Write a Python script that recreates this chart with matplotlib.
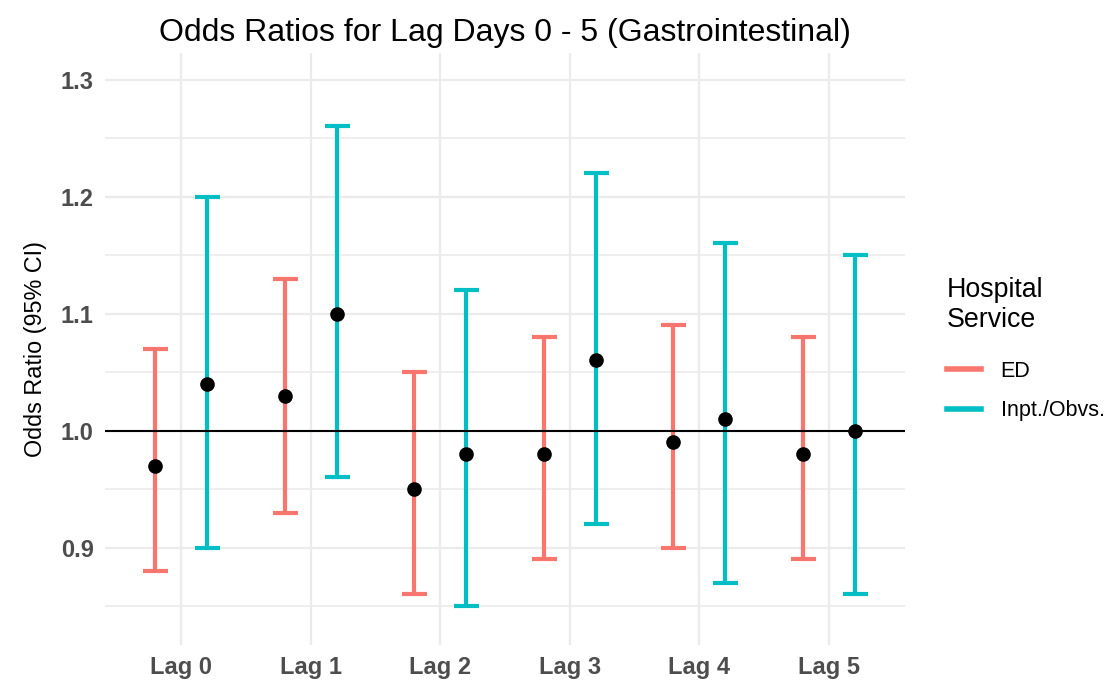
import matplotlib.pyplot as plt
from matplotlib.lines import Line2D
import numpy as np

plt.rcParams['font.family'] = ['Liberation Sans', 'DejaVu Sans']

# datos
lags = ['Lag 0', 'Lag 1', 'Lag 2', 'Lag 3', 'Lag 4', 'Lag 5']

ed_or = [0.97, 1.03, 0.95, 0.98, 0.99, 0.98]
ed_lo = [0.88, 0.93, 0.86, 0.89, 0.90, 0.89]
ed_hi = [1.07, 1.13, 1.05, 1.08, 1.09, 1.08]

inp_or = [1.04, 1.10, 0.98, 1.06, 1.01, 1.00]
inp_lo = [0.90, 0.96, 0.85, 0.92, 0.87, 0.86]
inp_hi = [1.20, 1.26, 1.12, 1.22, 1.16, 1.15]

series = [
    ('ED', ed_or, ed_lo, ed_hi, '#F8766D', -0.2),
    ('Inpt./Obvs.', inp_or, inp_lo, inp_hi, '#00BFC4', 0.2),
]

fig = plt.figure(figsize=(11.05, 6.83), dpi=100)
ax = fig.add_axes([0.095, 0.056, 0.724, 0.866])

x = np.arange(len(lags))

# grilla estilo theme_minimal
for y in [0.9, 1.0, 1.1, 1.2, 1.3]:
    ax.axhline(y, color='#EBEBEB', lw=1.6, zorder=0)
for y in [0.85, 0.95, 1.05, 1.15, 1.25]:
    ax.axhline(y, color='#EBEBEB', lw=1.2, zorder=0)
for xi in x:
    ax.axvline(xi, color='#EBEBEB', lw=1.6, zorder=0)

handles = []
for nombre, orr, lo, hi, color, dx in series:
    orr = np.array(orr)
    yerr = [orr - np.array(lo), np.array(hi) - orr]
    ax.errorbar(x + dx, orr, yerr=yerr, fmt='none', ecolor=color,
                elinewidth=3, capsize=9, capthick=3, zorder=2)
    ax.plot(x + dx, orr, 'o', color='black', ms=9.5, zorder=4)
    handles.append(Line2D([], [], color=color, lw=4, label=nombre))

ax.axhline(1.0, color='black', lw=1.5, zorder=3)

ax.set_xlim(-0.59, 5.59)
ax.set_ylim(0.817, 1.3225)
ax.set_xticks(x)
ax.set_xticklabels(lags)
ax.set_yticks([0.9, 1.0, 1.1, 1.2, 1.3])
ax.set_yticklabels(['0.9', '1.0', '1.1', '1.2', '1.3'])
ax.tick_params(length=0, labelsize=17, labelcolor='#4D4D4D', pad=8)
for lab in ax.get_xticklabels() + ax.get_yticklabels():
    lab.set_fontweight('bold')
for s in ax.spines.values():
    s.set_visible(False)

ax.set_ylabel('Odds Ratio (95% CI)', fontsize=16.8, labelpad=10)
ax.set_title('Odds Ratios for Lag Days 0 - 5 (Gastrointestinal)', fontsize=23, pad=9)

leg = ax.legend(handles=handles, title='Hospital\nService', frameon=False,
                loc='center left', bbox_to_anchor=(1.028, 0.5), fontsize=15.5,
                title_fontsize=19.3, alignment='left', handlelength=1.6,
                handletextpad=0.9, labelspacing=0.85)
# mas espacio entre el titulo y las entradas
leg._legend_box.sep = 1.3 * 15.5

fig.savefig('out.png', dpi=100)
